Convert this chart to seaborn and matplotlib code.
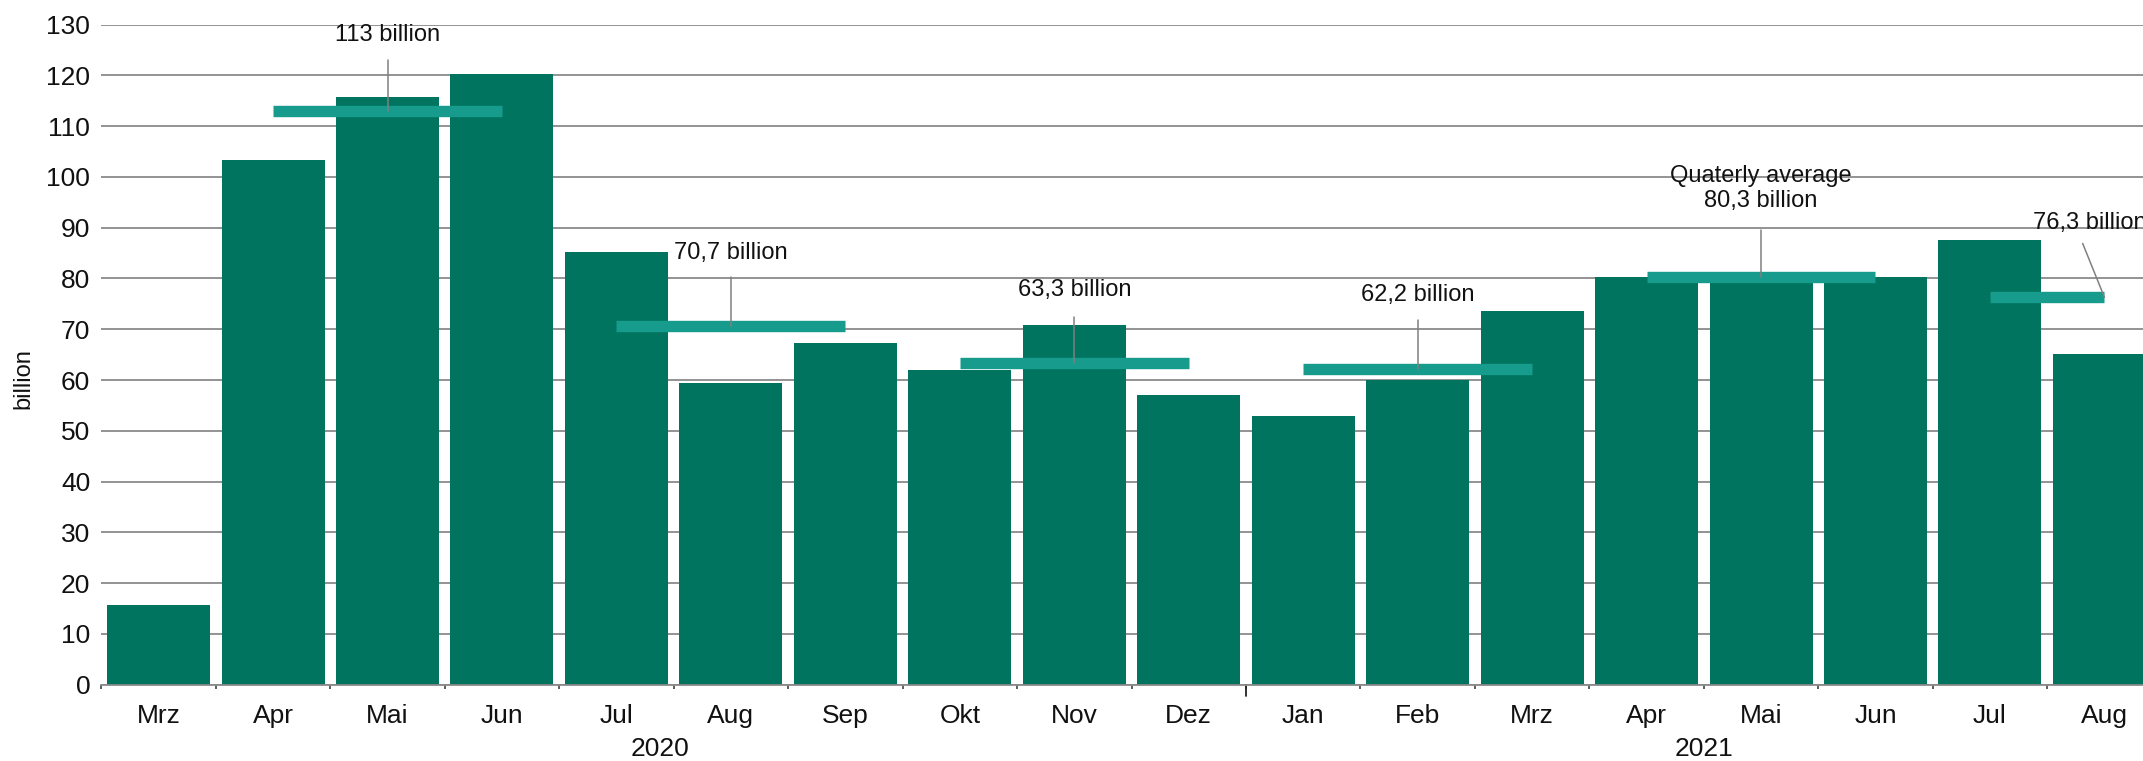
import pandas as pd
import seaborn as sns
import matplotlib.pyplot as plt
import matplotlib.transforms as mtransforms
import numpy as np

# Monthly values (billion), March 2020 to August 2021
periods = ['2020-03', '2020-04', '2020-05', '2020-06', '2020-07', '2020-08', '2020-09',
           '2020-10', '2020-11', '2020-12', '2021-01', '2021-02', '2021-03', '2021-04',
           '2021-05', '2021-06', '2021-07', '2021-08']
month_labels = ['Mrz', 'Apr', 'Mai', 'Jun', 'Jul', 'Aug', 'Sep', 'Okt', 'Nov', 'Dez',
                'Jan', 'Feb', 'Mrz', 'Apr', 'Mai', 'Jun', 'Jul', 'Aug']
values = [15.6, 103.4, 115.7, 120.3, 85.3, 59.5, 67.3, 61.9, 70.8, 57.1,
          53.0, 60.0, 73.5, 80.2, 80.5, 80.2, 87.5, 65.1]

# Quarterly averages: first and last month of each quarter, value, label
avg_first = ['2020-04', '2020-07', '2020-10', '2021-01', '2021-04', '2021-07']
avg_last = ['2020-06', '2020-09', '2020-12', '2021-03', '2021-06', '2021-08']
avg_values = [113.0, 70.7, 63.3, 62.2, 80.3, 76.3]
avg_labels = ['113 billion', '70,7 billion', '63,3 billion', '62,2 billion',
              'Quaterly average\n80,3 billion', '76,3 billion']

years = ['2020', '2021']

df = pd.DataFrame({'period': periods, 'value': values})

sns.set_theme(style='white')
plt.rcParams['font.family'] = ['Liberation Sans', 'DejaVu Sans']

bar_color = '#00745F'
avg_color = '#179B8C'
grid_color = '#8a8a8a'

fig = plt.figure(figsize=(21.43, 7.61), dpi=100)
ax = fig.add_axes([0.0473, 0.1003, 0.9614, 0.8674])

sns.barplot(data=df, x='period', y='value', order=periods, color=bar_color,
            saturation=1, width=0.9, linewidth=0, ax=ax, zorder=2)

ax.set_xlim(-0.5, len(periods) - 0.5)
ax.set_ylim(0, 130)
ax.set_yticks(np.arange(0, 131, 10))
ax.yaxis.grid(True, color=grid_color, lw=1.3)
ax.set_axisbelow(True)

for side in ['top', 'right', 'left']:
    ax.spines[side].set_visible(False)
ax.spines['bottom'].set_color(grid_color)
ax.spines['bottom'].set_linewidth(1.3)

ax.set_xticks(range(len(periods)))
ax.set_xticklabels(month_labels)
ax.set_xticks(np.arange(-0.5, len(periods), 1), minor=True)
ax.tick_params(axis='x', which='major', bottom=True, length=0, labelsize=19, pad=14,
               labelcolor='#111111')
ax.tick_params(axis='x', which='minor', bottom=True, length=3, width=1.1, color='#333333',
               direction='out')
ax.tick_params(axis='y', length=0, labelsize=19, pad=8, labelcolor='#111111')
ax.set_xlabel('')
ax.set_ylabel('billion', fontsize=17, color='#111111')
ax.yaxis.set_label_coords(-0.0325, 0.464)

# year separator and year labels
trans = mtransforms.blended_transform_factory(ax.transData, ax.transAxes)
ax.plot([9.5, 9.5], [0, -0.017], color='#222222', lw=1.3, transform=trans, clip_on=False)
for yr, xpos in zip(years, [4.38, 13.5]):
    ax.text(xpos, -0.098, yr, transform=trans, ha='center', va='center', fontsize=19,
            color='#111111')

# quarterly average bands
x_first = [periods.index(p) for p in avg_first]
x_last = [periods.index(p) for p in avg_last]
ax.hlines(avg_values, x_first, x_last, colors=avg_color, lw=8.2, capstyle='butt', zorder=3)

# annotation layout
text_x = [2, 5, 8, 11, 14, 16.38]
text_y = [127.9, 85.1, 77.8, 76.7, 97.7, 91.0]
text_ha = ['center', 'center', 'center', 'center', 'center', 'left']
lead_x0 = [2, 5, 8, 11, 14, 16.81]
lead_y0 = [123.0, 80.2, 72.4, 71.9, 89.6, 86.9]
lead_x1 = [2, 5, 8, 11, 14, 17.0]

for i, lab in enumerate(avg_labels):
    ax.plot([lead_x0[i], lead_x1[i]], [lead_y0[i], avg_values[i]], color='#808080', lw=1.1,
            zorder=4)
    ax.text(text_x[i], text_y[i], lab, ha=text_ha[i], va='center', fontsize=17,
            color='#111111', linespacing=1.15, zorder=5)

fig.savefig('out.png', dpi=100)
